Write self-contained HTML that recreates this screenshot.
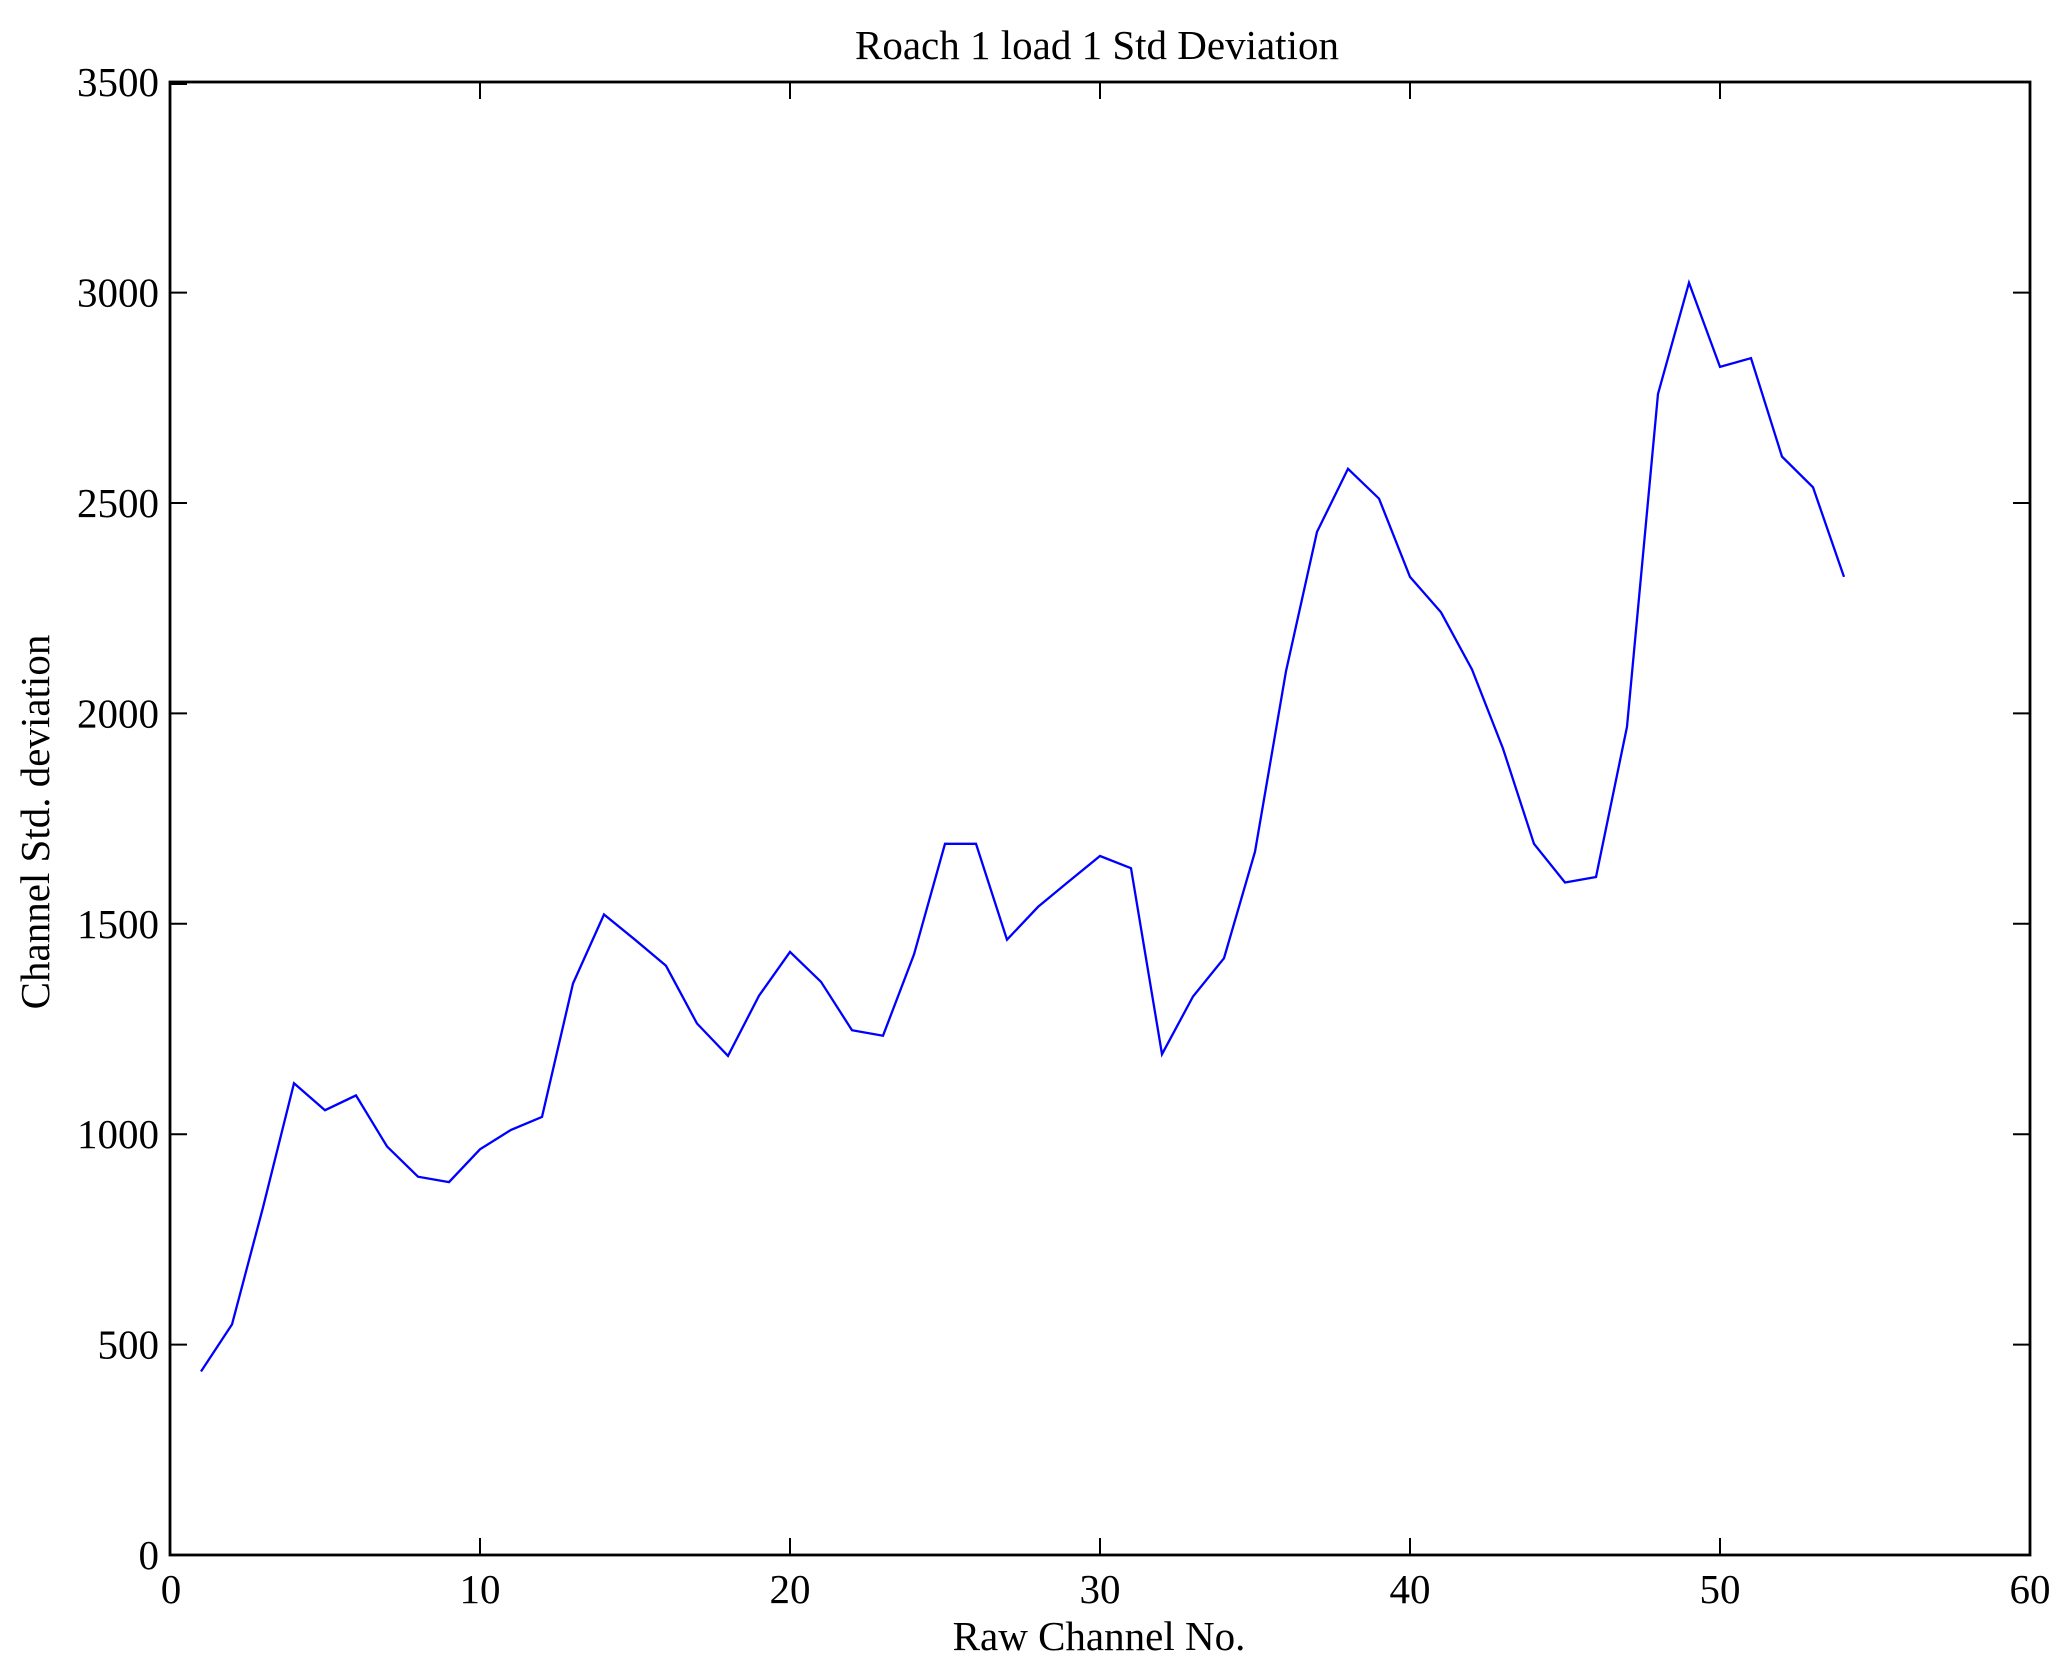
<!DOCTYPE html>
<html>
<head>
<meta charset="utf-8">
<style>
html,body{margin:0;padding:0;background:#fff;}
svg{display:block;}
text{font-family:"Liberation Serif","DejaVu Serif",serif;font-size:41px;fill:#000;}
</style>
</head>
<body>
<svg width="2067" height="1671" viewBox="0 0 2067 1671" xmlns="http://www.w3.org/2000/svg">
<rect x="0" y="0" width="2067" height="1671" fill="#fff"/>
<polyline fill="none" stroke="#0000ff" stroke-width="2.3" stroke-linejoin="miter" points="
201,1371.5 232,1324.4 263,1207.4 294,1083.2 325,1110.2 356,1095.4 387,1146.4 418,1176.7 449,1182.1 480,1149.3
511,1129.9 542,1116.9 573,983.5 604,914.5 635,939.7 666,965.8 697,1023.5 728,1055.9 759,995.7 790,951.9
821,981.8 852,1030.2 883,1035.7 914,954.4 945,843.8 976,843.8 1007,939.7 1038,906.9 1069,881.2 1100,856.0
1131,868.2 1162,1054.2 1193,996.5 1224,958.2 1255,851.7 1286,671.2 1317,531.9 1348,468.8 1379,498.6 1410,576.9
1441,612.3 1472,669.5 1503,748.6 1534,843.8 1565,882.5 1596,877.0 1627,726.7 1658,393.9 1689,282.7 1720,366.9
1751,358.1 1782,456.6 1813,487.3 1844,576.9"/>
<g stroke="#000" stroke-width="2">
<line x1="480" y1="1555" x2="480" y2="1538"/>
<line x1="790" y1="1555" x2="790" y2="1538"/>
<line x1="1100" y1="1555" x2="1100" y2="1538"/>
<line x1="1410" y1="1555" x2="1410" y2="1538"/>
<line x1="1720" y1="1555" x2="1720" y2="1538"/>
<line x1="480" y1="82" x2="480" y2="99"/>
<line x1="790" y1="82" x2="790" y2="99"/>
<line x1="1100" y1="82" x2="1100" y2="99"/>
<line x1="1410" y1="82" x2="1410" y2="99"/>
<line x1="1720" y1="82" x2="1720" y2="99"/>
<line x1="170" y1="1344.6" x2="187" y2="1344.6"/>
<line x1="170" y1="1134.2" x2="187" y2="1134.2"/>
<line x1="170" y1="923.8" x2="187" y2="923.8"/>
<line x1="170" y1="713.4" x2="187" y2="713.4"/>
<line x1="170" y1="503.0" x2="187" y2="503.0"/>
<line x1="170" y1="292.6" x2="187" y2="292.6"/>
<line x1="170" y1="84" x2="187" y2="84"/>
<line x1="2030" y1="1344.6" x2="2013" y2="1344.6"/>
<line x1="2030" y1="1134.2" x2="2013" y2="1134.2"/>
<line x1="2030" y1="923.8" x2="2013" y2="923.8"/>
<line x1="2030" y1="713.4" x2="2013" y2="713.4"/>
<line x1="2030" y1="503.0" x2="2013" y2="503.0"/>
<line x1="2030" y1="292.6" x2="2013" y2="292.6"/>
</g>
<rect x="170" y="82" width="1860" height="1473" fill="none" stroke="#000" stroke-width="2.8"/>
<g text-anchor="middle">
<text x="171" y="1603">0</text>
<text x="480" y="1603">10</text>
<text x="790" y="1603">20</text>
<text x="1100" y="1603">30</text>
<text x="1410" y="1603">40</text>
<text x="1720" y="1603">50</text>
<text x="2030" y="1603">60</text>
</g>
<g text-anchor="end">
<text x="159" y="1569">0</text>
<text x="159" y="1358.6">500</text>
<text x="159" y="1148.2">1000</text>
<text x="159" y="937.8">1500</text>
<text x="159" y="727.4">2000</text>
<text x="159" y="517.0">2500</text>
<text x="159" y="306.6">3000</text>
<text x="159" y="96.2">3500</text>
</g>
<text x="1097" y="59" text-anchor="middle">Roach 1 load 1 Std Deviation</text>
<text x="1099" y="1650" text-anchor="middle">Raw Channel No.</text>
<text transform="translate(49,822) rotate(-90)" text-anchor="middle">Channel Std. deviation</text>
</svg>
</body>
</html>
